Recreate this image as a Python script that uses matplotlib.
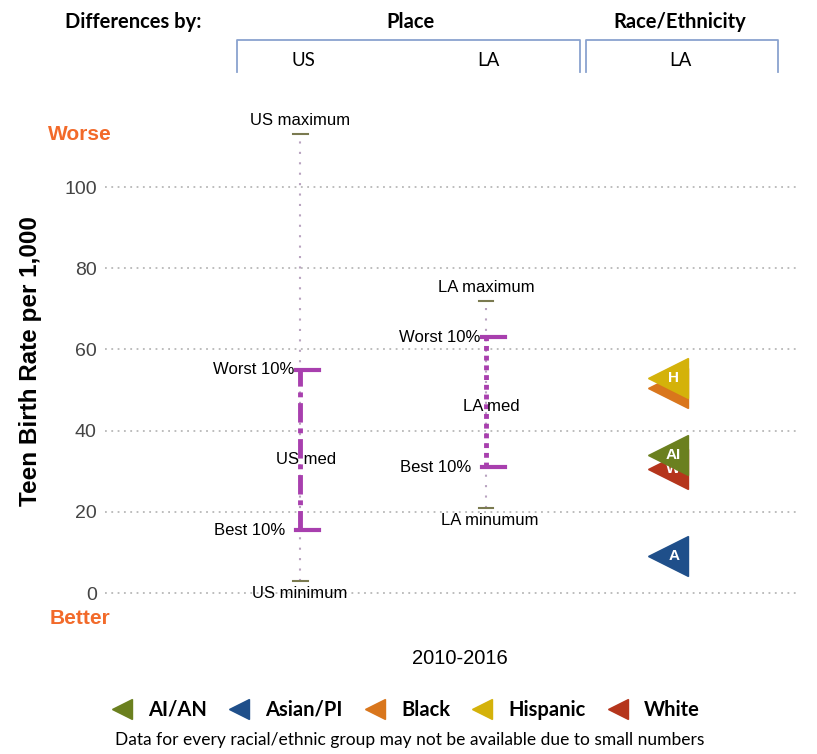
import matplotlib.pyplot as plt
from matplotlib.lines import Line2D

plt.rcParams['font.family'] = ['Liberation Sans', 'DejaVu Sans']

# place summary values (teen births per 1,000)
places = ["US", "LA"]
place_max = [113, 72]
place_worst10 = [55, 63]
place_med = [33, 46]
place_best10 = [15.5, 31]
place_min = [3, 21]

# race/ethnicity values for LA
groups = ["AI/AN", "Asian/PI", "Black", "Hispanic", "White"]
group_abbr = ["AI", "A", "", "H", "W"]
group_vals = [34, 9, 50.5, 53, 30.5]
group_colors = ["#6b801f", "#1f4f8a", "#d9761c", "#d4b20a", "#b5351c"]
draw_order = [2, 3, 4, 0, 1]

W, H = 817, 754
fig = plt.figure(figsize=(W / 100, H / 100), dpi=100)

def fx(px):
    return px / W

def fy(py):
    return 1 - py / H

# pixel mapping: y=0 -> 593, y=100 -> 187
ppu = (593 - 187) / 100
ax_top, ax_bot = 110, 612
ax = fig.add_axes([fx(105), fy(ax_bot), fx(800) - fx(105), fy(ax_top) - fy(ax_bot)])
ax.set_ylim((593 - ax_bot) / ppu, (593 - ax_top) / ppu)
ax.set_xlim(-0.05, 3.69)
for s in ax.spines.values():
    s.set_visible(False)
ax.set_xticks([])
ax.set_yticks([0, 20, 40, 60, 80, 100])
ax.tick_params(axis="y", length=0, labelsize=14, colors="#444444", pad=6)
ax.grid(axis="y", linestyle=(0, (1, 2.5)), color="#b8b8b8", lw=1.3)
ax.set_axisbelow(True)
ax.set_ylabel("Teen Birth Rate per 1,000", fontsize=17.5, fontweight="bold", labelpad=16)

purple = "#a83fae"
styles = [(0, (4, 1.2, 1, 1.2)), (0, (1, 1))]
for i, name in enumerate(places):
    x = i + 1
    ax.plot([x, x], [place_min[i], place_max[i]], color="#b9a3c0", lw=1.5,
            linestyle=(0, (1, 4)), zorder=2)
    ax.plot([x, x], [place_best10[i], place_worst10[i]], color=purple, lw=3.5,
            linestyle=styles[i], zorder=3)
    for v in (place_best10[i], place_worst10[i]):
        ax.plot([x - 0.02, x + 0.1], [v, v], color=purple, lw=3, zorder=3)
    for v in (place_max[i], place_min[i]):
        ax.plot([x - 0.04, x + 0.04], [v, v], color="#7a7a50", lw=1.5, zorder=3)
    ax.text(x, place_max[i] + 1.5, name + " maximum", ha="center", va="bottom", fontsize=12)
    ax.text(x - 0.03, place_worst10[i], "Worst 10%", ha="right", va="center", fontsize=12)
    ax.text(x - 0.08, place_best10[i], "Best 10%", ha="right", va="center", fontsize=12)
    ax.text(x + 0.03, place_med[i], name + " med", ha="center", va="center", fontsize=12)
    lbl = " minimum" if i == 0 else " minumum"
    ax.text(x + 0.02 * i, place_min[i] - 1.2, name + lbl, ha="center", va="top", fontsize=12)

for k in draw_order:
    z = 4 + draw_order.index(k)
    ax.plot(2.98, group_vals[k], marker="<", ms=29, color=group_colors[k],
            markeredgecolor=group_colors[k], zorder=z)
    ax.text(3.01, group_vals[k], group_abbr[k], color="white", fontsize=11,
            fontweight="bold", ha="center", va="center", zorder=z)

# header
hdr = "Lato"
fig.text(fx(133), fy(22), "Differences by:", ha="center", va="center", fontsize=14.5,
         fontweight="bold", family=hdr)
fig.text(fx(410), fy(22), "Place", ha="center", va="center", fontsize=14.5,
         fontweight="bold", family=hdr)
fig.text(fx(680), fy(22), "Race/Ethnicity", ha="center", va="center", fontsize=14.5,
         fontweight="bold", family=hdr)
bc = "#8aa3cf"
for x0, x1 in [(237, 580), (586, 778)]:
    fig.add_artist(Line2D([fx(x0), fx(x0), fx(x1), fx(x1)],
                          [fy(72), fy(40), fy(40), fy(72)], color=bc, lw=1.3))
for px, t in [(303, "US"), (488, "LA"), (680, "LA")]:
    fig.text(fx(px), fy(61), t, ha="center", va="center", fontsize=13.5, family=hdr)

fig.text(fx(80), fy(134), "Worse", ha="center", va="center", fontsize=15,
         fontweight="bold", color="#f26a2a")
fig.text(fx(80), fy(619), "Better", ha="center", va="center", fontsize=15,
         fontweight="bold", color="#f26a2a")
fig.text(fx(460), fy(658), "2010-2016", ha="center", va="center", fontsize=14.5)

handles = [Line2D([], [], marker="<", ms=14, color=c, linestyle="none") for c in group_colors]
fig.legend(handles, groups, loc="center", bbox_to_anchor=(fx(405), fy(710)), ncol=5,
           frameon=False, prop={"family": hdr, "weight": "bold", "size": 14.5},
           handlelength=1.2, handletextpad=0.7, columnspacing=1.0)
fig.text(fx(410), fy(740), "Data for every racial/ethnic group may not be available due to small numbers",
         ha="center", va="center", fontsize=12.5, family=hdr)

fig.savefig("out.png", dpi=100)
